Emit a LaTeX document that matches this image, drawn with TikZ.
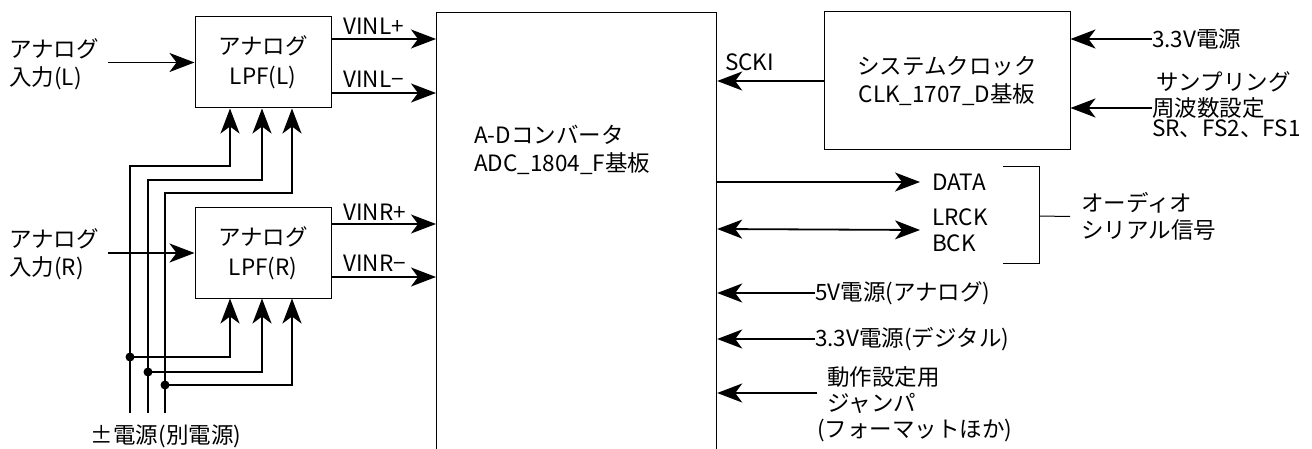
\documentclass[tikz,border=0pt]{standalone}
\usepackage{fontspec}
\setmainfont{Noto Sans CJK JP}
\usetikzlibrary{arrows.meta}
\begin{document}
\begin{tikzpicture}[x=1pt,y=-1pt,
  font=\fontsize{22.5}{27}\selectfont,
  box/.style={draw, line width=1pt, inner sep=0pt, align=center},
  arr/.style={line width=1.8pt, -{Stealth[length=25pt,width=19pt,inset=7pt]}},
  arrboth/.style={line width=1.8pt, {Stealth[length=25pt,width=19pt,inset=7pt]}-{Stealth[length=25pt,width=19pt,inset=7pt]}},
  wire/.style={line width=1.8pt},
  thinl/.style={line width=1pt},
  lbl/.style={inner sep=0pt, align=left},
  dot/.style={circle, fill, inner sep=0pt, minimum size=9pt}]
\useasboundingbox (0,0) rectangle (1312,449);
\clip (0,0) rectangle (1312,449);

% main blocks
\node[box, minimum width=136pt, minimum height=91pt, font=\fontsize{22.5}{30}\selectfont] (lpfL) at (263,62.5) {アナログ\\LPF(L)};
\node[box, minimum width=136pt, minimum height=90pt, font=\fontsize{22.5}{30}\selectfont] (lpfR) at (263,253) {アナログ\\LPF(R)};
\node[draw, line width=1.2pt, minimum width=280pt, minimum height=470pt, anchor=north west] (adc) at (436,12) {};
\node[lbl, anchor=west, font=\fontsize{22.5}{28}\selectfont] (adct) at (474,150) {A-Dコンバータ\\ADC\_1804\_F基板};
\node[box, minimum width=246pt, minimum height=138pt, font=\fontsize{22.5}{28}\selectfont] (clk) at (947,81) {システムクロック\\CLK\_1707\_D基板};

% left inputs
\node[lbl, anchor=west, font=\fontsize{22.5}{28}\selectfont] (inL) at (9,64) {アナログ\\入力(L)};
\node[lbl, anchor=west, font=\fontsize{22.5}{28}\selectfont] (inR) at (9,254) {アナログ\\入力(R)};
\coordinate (inLe) at (108,62.5);
\coordinate (inRe) at (108,253);
\draw[arr] (inLe) -- (lpfL.west);
\draw[arr] (inRe) -- (lpfR.west);

% LPF outputs
\node[lbl, anchor=west] (vlp) at (343,26) {VINL+};
\node[lbl, anchor=west] (vlm) at (343,79) {VINL−};
\node[lbl, anchor=west] (vrp) at (343,212) {VINR+};
\node[lbl, anchor=west] (vrm) at (343,263) {VINR−};
\draw[arr] (lpfL.east |- 0,39) -- (adc.west |- 0,39);
\draw[arr] (lpfL.east |- 0,93) -- (adc.west |- 0,93);
\draw[arr] (lpfR.east |- 0,224) -- (adc.west |- 0,224);
\draw[arr] (lpfR.east |- 0,277) -- (adc.west |- 0,277);

% power supply wires
\coordinate (p1) at (130,413);
\coordinate (p2) at (148,413);
\coordinate (p3) at (165,413);
\draw[arr] (p1) |- (230,166) -- (lpfL.south -| 230,0);
\draw[arr] (p2) |- (262,180) -- (lpfL.south -| 262,0);
\draw[arr] (p3) |- (292,193) -- (lpfL.south -| 292,0);
\node[dot] (d1) at (130,357) {};
\node[dot] (d2) at (148,372) {};
\node[dot] (d3) at (165,385) {};
\draw[arr] (d1.center) -| (lpfR.south -| 230,0);
\draw[arr] (d2.center) -| (lpfR.south -| 262,0);
\draw[arr] (d3.center) -| (lpfR.south -| 292,0);
\node[lbl, anchor=center] (pm) at (166,436) {±電源(別電源)};

% clock
\node[lbl, anchor=west] (scki) at (725,62) {SCKI};
\draw[arr] (clk.west) -- (adc.east |- clk.west);
\node[lbl, anchor=west] (v33) at (1152,39) {3.3V電源};
\draw[arr] (v33.west) -- (clk.east |- v33.west);
\node[lbl, anchor=west] (fs1) at (1156,82) {サンプリング};
\node[lbl, anchor=west] (fs2) at (1152,108) {周波数設定};
\node[lbl, anchor=west, font=\fontsize{22.5}{24}\selectfont] (fs3) at (1152,129) {SR、FS2、FS1};
\draw[arr] (fs2.west) -- (clk.east |- fs2.west);

% serial signals
\node[lbl, anchor=west] (data) at (932,182) {DATA};
\draw[arr] (adc.east |- data.west) -- ([xshift=-12pt]data.west);
\node[lbl, anchor=west, font=\fontsize{22.5}{26}\selectfont] (lrck) at (932,230) {LRCK\\BCK};
\draw[arrboth] (adc.east |- 0,229) -- ([xshift=-12pt]lrck.west);
\coordinate (bt) at (1003,167);
\coordinate (bb) at (1003,263);
\coordinate (bm) at (1039,216);
\draw[thinl] (bt) -| (bm) |- (bb);
\node[lbl, anchor=west, font=\fontsize{22.5}{27}\selectfont] (aud) at (1081,216.5) {オーディオ\\シリアル信号};
\draw[thinl] (bm) -- ([xshift=-11pt]aud.west);

% power / settings to ADC
\node[lbl, anchor=west] (v5) at (815,293) {5V電源(アナログ)};
\draw[arr] (v5.west) -- (adc.east |- v5.west);
\node[lbl, anchor=west] (v33d) at (815,339) {3.3V電源(デジタル)};
\draw[arr] (v33d.west) -- (adc.east |- v33d.west);
\node[lbl, anchor=west, font=\fontsize{22.5}{26}\selectfont] (jmp) at (827,404) {動作設定用\\ジャンパ\\\hspace*{-10pt}(フォーマットほか)};
\coordinate (jmpa) at (817,393);
\draw[arr] (jmpa) -- (adc.east |- jmpa);
\end{tikzpicture}
\end{document}
